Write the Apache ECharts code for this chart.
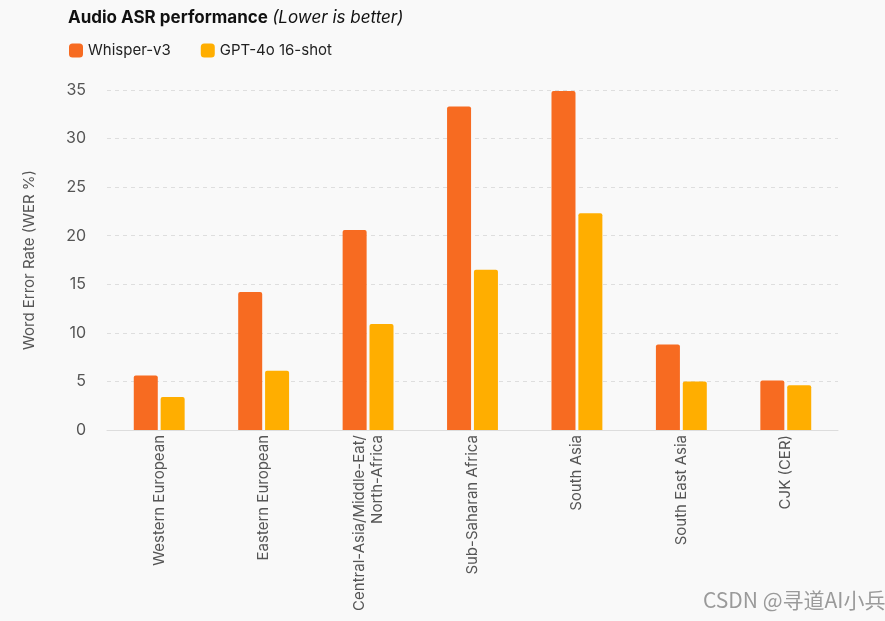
<!DOCTYPE html>
<html><head><meta charset="utf-8">
<script src="https://cdn.jsdelivr.net/npm/echarts@6/dist/echarts.min.js"></script>
<style>html,body{margin:0;padding:0;background:#f9f9f9}#c{width:885px;height:621px}</style>
</head><body><div id="c"></div>
<script>
const categories = ["Western European","Eastern European","Central-Asia/Middle-Eat/\nNorth-Africa","Sub-Saharan Africa","South Asia","South East Asia","CJK (CER)"];
const whisper = [5.6, 14.2, 20.6, 33.3, 34.9, 8.8, 5.1];
const gpt4o = [3.4, 6.1, 10.9, 16.5, 22.3, 5.0, 4.6];
const seriesNames = ["Whisper-v3", "GPT-4o 16-shot"];
const yTicks = {min: 0, max: 35, interval: 5};

const FONT = "Inter, 'Liberation Sans', sans-serif";
const chart = echarts.init(document.getElementById('c'));
chart.setOption({
  backgroundColor: '#f9f9f9',
  textStyle: {fontFamily: FONT},
  title: {
    text: '{b|Audio ASR performance} {i|(Lower is better)}',
    left: 63, top: 4,
    textStyle: {rich: {
      b: {fontFamily: FONT, fontSize: 17, fontWeight: 'bold', color: '#111'},
      i: {fontFamily: FONT, fontSize: 17, fontStyle: 'italic', fontWeight: 'normal', color: '#111'}
    }}
  },
  legend: {
    left: 64, top: 38, itemWidth: 14, itemHeight: 14, itemGap: 30,
    icon: 'roundRect',
    textStyle: {fontFamily: FONT, fontSize: 15, color: '#222'},
    data: seriesNames
  },
  grid: {left: 107, right: 47, top: 90, bottom: 191},
  xAxis: {
    type: 'category', data: categories,
    axisLine: {lineStyle: {color: '#dddddd'}},
    axisTick: {show: false},
    axisLabel: {rotate: 90, fontFamily: FONT, fontSize: 15, color: '#555', margin: 5, interval: 0, lineHeight: 18}
  },
  yAxis: {
    type: 'value', min: yTicks.min, max: yTicks.max, interval: yTicks.interval,
    name: 'Word Error Rate (WER %)', nameLocation: 'middle', nameGap: 70, nameRotate: 90,
    nameTextStyle: {fontFamily: FONT, fontSize: 15, color: '#555'},
    axisLine: {show: false}, axisTick: {show: false},
    axisLabel: {fontFamily: FONT, fontSize: 16, color: '#555', margin: 21},
    splitLine: {lineStyle: {type: [4, 4], color: '#dedede'}}
  },
  series: [
    {name: seriesNames[0], type: 'bar', data: whisper, barWidth: 24, barGap: '12%',
     itemStyle: {color: '#F76B21', borderRadius: [2, 2, 0, 0]}},
    {name: seriesNames[1], type: 'bar', data: gpt4o, barWidth: 24, barGap: '12%',
     itemStyle: {color: '#FFAE00', borderRadius: [2, 2, 0, 0]}}
  ],
  graphic: [{
    type: 'text', left: 703, top: 590,
    style: {text: 'CSDN @寻道AI小兵', fontFamily: "'Noto Sans CJK SC', sans-serif", fontSize: 21, fill: '#9a9a9a'}
  }]
});
</script></body></html>
